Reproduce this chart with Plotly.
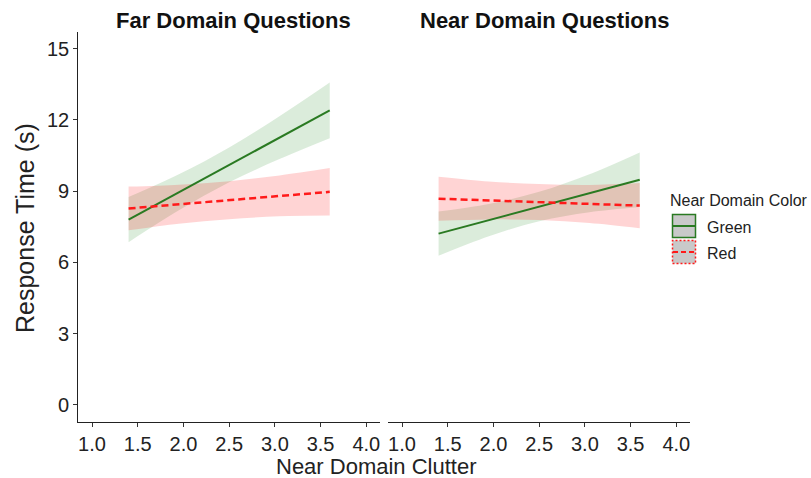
import plotly.graph_objects as go

# ---- data ----
clutter = [1.4, 1.95, 2.5, 3.05, 3.6]

far_green_fit = [7.80, 8.95, 10.10, 11.25, 12.40]
far_green_lo = [6.85, 8.19, 9.37, 10.35, 11.23]
far_green_hi = [8.75, 9.71, 10.84, 12.15, 13.57]

far_red_fit = [8.27, 8.45, 8.62, 8.80, 8.97]
far_red_lo = [7.35, 7.63, 7.82, 7.94, 7.97]
far_red_hi = [9.19, 9.27, 9.42, 9.66, 9.97]

near_green_fit = [7.21, 7.78, 8.35, 8.91, 9.48]
near_green_lo = [6.28, 7.10, 7.73, 8.11, 8.33]
near_green_hi = [8.14, 8.46, 8.97, 9.71, 10.63]

near_red_fit = [8.68, 8.61, 8.54, 8.46, 8.39]
near_red_lo = [7.75, 7.81, 7.78, 7.66, 7.44]
near_red_hi = [9.61, 9.41, 9.30, 9.26, 9.34]

x_ticks = [1.0, 1.5, 2.0, 2.5, 3.0, 3.5, 4.0]
y_ticks = [0, 3, 6, 9, 12, 15]
panel_titles = ["Far Domain Questions", "Near Domain Questions"]
legend_title = "Near Domain Color"
legend_labels = ["Green", "Red"]

# ---- styles ----
W, H = 811, 478
GREEN = "#2a7a22"
RED = "#ff1a1a"
GREEN_FILL = "rgba(34,139,34,0.16)"
RED_FILL = "rgba(255,0,0,0.17)"
FONT = "Liberation Sans, Arial, Helvetica, sans-serif"

fig = go.Figure()

panels = [
    ("x", "y", far_green_fit, far_green_lo, far_green_hi, far_red_fit, far_red_lo, far_red_hi),
    ("x2", "y2", near_green_fit, near_green_lo, near_green_hi, near_red_fit, near_red_lo, near_red_hi),
]

for xa, ya, gf, gl, gh, rf, rl, rh in panels:
    for lo, hi, fc in [(gl, gh, GREEN_FILL), (rl, rh, RED_FILL)]:
        fig.add_trace(go.Scatter(x=clutter, y=lo, mode="lines", line=dict(width=0, shape="spline"),
                                 xaxis=xa, yaxis=ya, showlegend=False, hoverinfo="skip"))
        fig.add_trace(go.Scatter(x=clutter, y=hi, mode="lines", line=dict(width=0, shape="spline"),
                                 fill="tonexty", fillcolor=fc,
                                 xaxis=xa, yaxis=ya, showlegend=False, hoverinfo="skip"))
    fig.add_trace(go.Scatter(x=clutter, y=gf, mode="lines", line=dict(color=GREEN, width=2),
                             xaxis=xa, yaxis=ya, showlegend=False))
    fig.add_trace(go.Scatter(x=clutter, y=rf, mode="lines", line=dict(color=RED, width=2.5, dash="7px,4px"),
                             xaxis=xa, yaxis=ya, showlegend=False))

def px_x(p):
    return p / W

def px_y(p):
    return 1 - p / H

xdom1 = [px_x(78.3), px_x(380)]
xdom2 = [px_x(388.3), px_x(690)]
ydom = [px_y(422), px_y(32)]

xaxis_common = dict(range=[0.85, 4.15], tickvals=x_ticks, tickformat=".1f",
                    showline=True, linecolor="#222", linewidth=1.3,
                    ticks="outside", ticklen=4, tickcolor="#333", tickwidth=1,
                    showgrid=False, zeroline=False,
                    tickfont=dict(family=FONT, size=20, color="#222"))

fig.update_layout(
    width=W, height=H,
    margin=dict(l=0, r=0, t=0, b=0),
    paper_bgcolor="white", plot_bgcolor="white",
    showlegend=False,
    xaxis=dict(domain=xdom1, anchor="y", **xaxis_common),
    xaxis2=dict(domain=xdom2, anchor="y2", **xaxis_common),
    yaxis=dict(domain=ydom, anchor="x", range=[-0.72, 15.7], tickvals=y_ticks,
               showline=True, linecolor="#222", linewidth=1.3,
               ticks="outside", ticklen=4, tickcolor="#333", tickwidth=1,
               showgrid=False, zeroline=False,
               tickfont=dict(family=FONT, size=20, color="#222")),
    yaxis2=dict(domain=ydom, anchor="x2", range=[-0.72, 15.7], matches="y",
                showline=False, showticklabels=False, ticks="",
                showgrid=False, zeroline=False),
)

annotations = [
    dict(text="<b>" + panel_titles[0] + "</b>", x=px_x(233), y=px_y(20), xref="paper", yref="paper",
         showarrow=False, xanchor="center", yanchor="middle",
         font=dict(family=FONT, size=22, color="#111")),
    dict(text="<b>" + panel_titles[1] + "</b>", x=px_x(544), y=px_y(20), xref="paper", yref="paper",
         showarrow=False, xanchor="center", yanchor="middle",
         font=dict(family=FONT, size=22, color="#111")),
    dict(text="Near Domain Clutter", x=px_x(376), y=px_y(466), xref="paper", yref="paper",
         showarrow=False, xanchor="center", yanchor="middle",
         font=dict(family=FONT, size=22, color="#222")),
    dict(text="Response Time (s)", x=px_x(25), y=px_y(228), xref="paper", yref="paper",
         showarrow=False, xanchor="center", yanchor="middle", textangle=-90,
         font=dict(family=FONT, size=25, color="#222")),
    dict(text=legend_title, x=px_x(668), y=px_y(201), xref="paper", yref="paper",
         showarrow=False, xanchor="left", yanchor="middle",
         font=dict(family=FONT, size=16, color="#222")),
    dict(text=legend_labels[0], x=px_x(705), y=px_y(227), xref="paper", yref="paper",
         showarrow=False, xanchor="left", yanchor="middle",
         font=dict(family=FONT, size=16, color="#222")),
    dict(text=legend_labels[1], x=px_x(705), y=px_y(253), xref="paper", yref="paper",
         showarrow=False, xanchor="left", yanchor="middle",
         font=dict(family=FONT, size=16, color="#222")),
]
fig.update_layout(annotations=annotations)

# legend keys drawn as shapes (paper coordinates)
shapes = [
    dict(type="rect", xref="paper", yref="paper",
         x0=px_x(672.5), x1=px_x(695.5), y0=px_y(237.5), y1=px_y(214.5),
         fillcolor="#c9c9c9", line=dict(color=GREEN, width=1.5)),
    dict(type="line", xref="paper", yref="paper",
         x0=px_x(673), x1=px_x(695), y0=px_y(226), y1=px_y(226),
         line=dict(color=GREEN, width=2)),
    dict(type="rect", xref="paper", yref="paper",
         x0=px_x(672.5), x1=px_x(695.5), y0=px_y(263.5), y1=px_y(240.5),
         fillcolor="#c9c9c9", line=dict(color=RED, width=1.5, dash="2px,2px")),
    dict(type="line", xref="paper", yref="paper",
         x0=px_x(673), x1=px_x(695), y0=px_y(252), y1=px_y(252),
         line=dict(color=RED, width=2, dash="5px,3px")),
]
fig.update_layout(shapes=shapes)

fig.write_html("out.html")
